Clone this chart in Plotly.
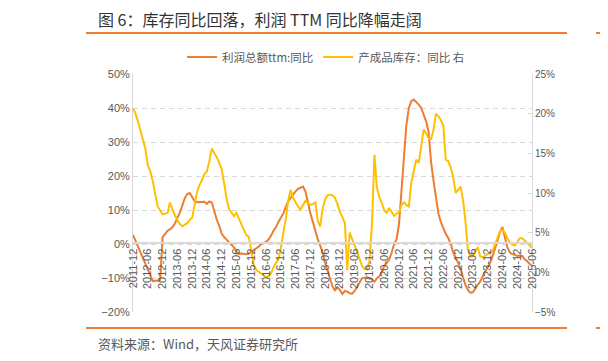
import pandas as pd
import plotly.graph_objects as go

# ---------------- data ----------------
START_MONTH = "2011-12-01"

profit_ttm_yoy = [
    2.7, 1.0, -0.8, -2.5, -4.2, -5.9, -7.6, -9.3, -10.9, -10.8, -10.8, -10.5,
    2.0, 3.0, 3.9, 4.3, 4.9, 6.0, 7.5, 9.2, 11.3, 13.5, 14.7, 15.0,
    13.8, 12.6, 12.3, 12.4, 12.5, 12.4, 11.8, 12.5, 12.2, 9.5, 7.2, 5.3,
    3.0, 2.0, 1.2, 0.5, 0.0, -1.0, -2.0, -2.9, -2.8, -2.9, -3.0, -2.8,
    -2.3, -1.8, -1.4, -0.8, 0.0, 0.4, 0.6, 1.3, 2.4, 3.9, 4.9, 6.5,
    7.8, 9.0, 11.0, 12.5, 13.6, 14.7, 15.5, 16.2, 16.6, 16.9, 15.5, 12.0,
    9.0, 6.5, 3.5, 1.5, -0.5, -2.5, -5.5, -8.0, -10.5, -12.5, -13.6, -12.7,
    -13.5, -14.7, -13.8, -14.0, -14.5, -14.6, -13.8, -12.6, -11.0, -10.1, -9.9, -9.8,
    -10.2, -10.4, -11.1, -10.1, -9.5, -8.3, -6.5, -5.4, -4.6, -2.5, 0.0, 1.5,
    6.0, 16.0, 27.5, 35.0, 40.0, 42.0, 42.5, 41.8, 41.0, 40.0, 38.0, 36.0,
    33.0, 24.0, 18.5, 13.7, 9.0, 6.5, 4.5, 3.0, 1.8, 0.0, -2.5, -4.0,
    -5.5, -7.5, -10.0, -12.0, -13.5, -14.3, -14.2, -13.0, -12.0, -11.0, -9.5, -8.0,
    -7.0, -5.5, -3.5, -1.5, 1.0, 3.5, 5.0, 2.0, -1.0, -2.5, -3.0, -3.2,
    -3.5, -3.4, -3.5, -4.5, -5.0, -5.8, -6.4,
]

inventory_yoy = [
    20.7, 20.0, 19.0, 17.8, 16.5, 15.6, 13.5, 12.8, 11.5, 9.8, 8.3, 7.8,
    7.3, 7.4, 7.5, 8.8, 7.9, 7.2, 6.6, 6.1, 5.8, 6.0, 6.2, 6.6,
    6.9, 8.5, 10.2, 11.0, 11.6, 12.4, 12.7, 14.0, 15.6, 15.0, 14.5, 13.8,
    13.0, 11.2, 9.2, 8.0, 7.5, 7.1, 7.5, 6.8, 6.0, 5.2, 4.7, 4.5,
    2.8, 1.0, 0.3, 0.1, -0.1, -0.3, -0.6, -0.5, -0.1, 0.6, 1.2, 1.6,
    3.0, 5.0, 6.8, 9.0, 10.4, 9.4, 8.8, 8.3, 7.9, 8.5, 9.0, 8.7,
    8.5, 8.6, 8.8, 6.5, 5.8, 8.0, 9.2, 9.7, 9.8, 9.7, 9.4, 8.6,
    7.6, 7.0, 6.2, 0.3, 5.0, 4.2, 3.5, 2.6, 1.7, 0.8, 0.4, 0.5,
    1.4, 6.0, 14.8, 10.8, 9.5, 8.8, 7.8, 7.5, 8.1, 7.6, 7.1, 7.4,
    7.6, 8.5, 8.8, 8.5, 8.3, 11.3, 12.8, 14.2, 13.8, 16.0, 18.0, 17.5,
    16.9, 16.8, 18.0, 20.0, 19.7, 19.2, 18.5, 14.2, 14.0, 13.2, 12.0, 10.0,
    10.4, 10.8, 9.0, 6.5, 2.8, 2.0, 2.0, 2.8, 3.1, 2.0, 1.9, 2.1,
    2.2, 2.4, 2.7, 3.5, 4.5, 5.2, 5.4, 5.0, 4.3, 3.8, 3.5, 3.4,
    3.8, 4.3, 4.3, 4.0, 3.7, 3.3, 3.1,
]

tick_labels = [
    "2011-12", "2012-06", "2012-12", "2013-06", "2013-12", "2014-06", "2014-12",
    "2015-06", "2015-12", "2016-06", "2016-12", "2017-06", "2017-12", "2018-06",
    "2018-12", "2019-06", "2019-12", "2020-06", "2020-12", "2021-06", "2021-12",
    "2022-06", "2022-12", "2023-06", "2023-12", "2024-06", "2024-12", "2025-06",
]

series_names = ["利润总额ttm:同比", "产成品库存：同比 右"]
title_text = "图 6：库存同比回落，利润 TTM 同比降幅走阔"
source_text = "资料来源：Wind，天风证券研究所"

# ---------------- figure ----------------
OFF = 8                      # page body margin of the html file
W, H = 608 - OFF, 361 - OFF
PLOT_X0, PLOT_X1 = 133, 532  # plot area in window pixels
PLOT_Y0, PLOT_Y1 = 74, 312
L, R = PLOT_X0 - OFF, W - (PLOT_X1 - OFF)
T, B = PLOT_Y0 - OFF, H - (PLOT_Y1 - OFF)
PW, PH = PLOT_X1 - PLOT_X0, PLOT_Y1 - PLOT_Y0


def px(x):
    return (x - PLOT_X0) / PW


def py(y):
    return (PLOT_Y1 - y) / PH


months = pd.date_range(START_MONTH, periods=len(profit_ttm_yoy), freq="MS")

FONT = "Liberation Sans, Arial, Noto Sans CJK SC, sans-serif"
CJK = "Noto Sans CJK SC, Liberation Sans, sans-serif"
ORANGE = "#ED7D31"
YELLOW = "#FFC000"
GRID = "#D9D9D9"
TXT = "#595959"

fig = go.Figure()
fig.add_trace(go.Scatter(x=months, y=profit_ttm_yoy, name=series_names[0],
                         mode="lines", line=dict(color=ORANGE, width=2), yaxis="y"))
fig.add_trace(go.Scatter(x=months, y=inventory_yoy, name=series_names[1],
                         mode="lines", line=dict(color=YELLOW, width=2), yaxis="y2"))

fig.update_layout(
    width=W, height=H,
    margin=dict(l=L, r=R, t=T, b=B, pad=0),
    paper_bgcolor="white", plot_bgcolor="white",
    font=dict(family=FONT, color=TXT, size=11),
    showlegend=True,
    legend=dict(orientation="h", x=px(182), y=py(57), xanchor="left", yanchor="middle",
                font=dict(family=CJK, size=11.5, color=TXT), bgcolor="rgba(0,0,0,0)",
                itemwidth=30, tracegroupgap=0),
    xaxis=dict(
        type="date",
        range=[months[0], months[-1]],
        tickvals=[lab + "-01" for lab in tick_labels],
        ticktext=tick_labels,
        tickangle=-90,
        anchor="free", position=py(243.3),
        showline=True, linecolor=GRID, linewidth=2,
        showgrid=False, ticks="", zeroline=False,
        tickfont=dict(family=FONT, size=11, color=TXT),
    ),
    yaxis=dict(
        range=[-20, 50], dtick=10, tick0=0, ticksuffix="%",
        showgrid=True, gridcolor=GRID, griddash="5px,4px", gridwidth=1,
        zeroline=False, showline=True, linecolor=GRID, linewidth=1,
        ticks="", tickfont=dict(family=FONT, size=11, color=TXT),
    ),
    yaxis2=dict(
        range=[-5, 25], dtick=5, tick0=0, ticksuffix="%",
        overlaying="y", side="right", anchor="x",
        showgrid=False, zeroline=False, showline=True, linecolor=GRID, linewidth=1,
        ticks="inside", ticklen=4, tickcolor=GRID,
        tickfont=dict(family=FONT, size=10, color=TXT),
    ),
    shapes=[
        dict(type="line", xref="paper", yref="paper", x0=px(86), x1=px(567),
             y0=py(33), y1=py(33), line=dict(color=ORANGE, width=2)),
        dict(type="line", xref="paper", yref="paper", x0=px(596), x1=px(610),
             y0=py(33), y1=py(33), line=dict(color=ORANGE, width=2)),
        dict(type="line", xref="paper", yref="paper", x0=px(86), x1=px(567),
             y0=py(328), y1=py(328), line=dict(color=ORANGE, width=2)),
        dict(type="line", xref="paper", yref="paper", x0=px(596), x1=px(610),
             y0=py(328), y1=py(328), line=dict(color=ORANGE, width=2)),
    ],
    annotations=[
        dict(text=title_text, xref="paper", yref="paper", x=px(96), y=py(19),
             xanchor="left", yanchor="middle", showarrow=False,
             font=dict(family=CJK, size=16, color="#333333")),
        dict(text="图", xref="paper", yref="paper", x=px(597), y=py(19),
             xanchor="left", yanchor="middle", showarrow=False,
             font=dict(family=CJK, size=16, color="#333333")),
        dict(text=source_text, xref="paper", yref="paper", x=px(96), y=py(343),
             xanchor="left", yanchor="middle", showarrow=False,
             font=dict(family=CJK, size=13, color=TXT)),
        dict(text="资", xref="paper", yref="paper", x=px(603), y=py(343),
             xanchor="left", yanchor="middle", showarrow=False,
             font=dict(family=CJK, size=13, color=TXT)),
    ],
)

fig.write_html("out.html")
